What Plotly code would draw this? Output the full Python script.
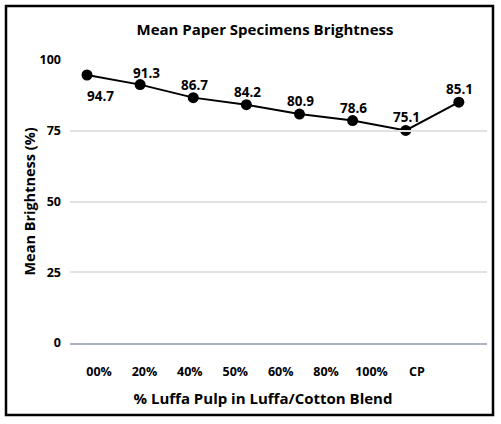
import plotly.graph_objects as go

# chart data
categories = ["00%", "20%", "40%", "50%", "60%", "80%", "100%", "CP"]
brightness = [94.7, 91.3, 86.7, 84.2, 80.9, 78.6, 75.1, 85.1]
label_text = ["94.7", "91.3", "86.7", "84.2", "80.9", "78.6", "75.1", "85.1"]
y_ticks = [0, 25, 50, 75, 100]

FONT = "Open Sans"
W, H = 501, 424
# plot area in pixels
L, R, T, B = 70, 14, 60, 81

fig = go.Figure()

fig.add_trace(go.Scatter(
    x=list(range(len(categories))),
    y=brightness,
    mode="lines+markers",
    line=dict(color="black", width=2),
    marker=dict(color="black", size=11, symbol="circle"),
    cliponaxis=False,
    showlegend=False,
    hoverinfo="skip",
))

# data labels: above each point, except the first one which sits below/right
for i, (v, t) in enumerate(zip(brightness, label_text)):
    if i == 0:
        xs, ys = 13, -21
    elif i == 1:
        xs, ys = 6, 12
    else:
        xs, ys = 1, 13
    fig.add_annotation(
        x=i, y=v, text=t, showarrow=False,
        xshift=xs, yshift=ys,
        font=dict(family=FONT, size=13.5, color="black", weight="bold"),
    )

pw, ph = W - L - R, H - T - B

fig.update_layout(
    width=W, height=H,
    margin=dict(l=L, r=R, t=T, b=B),
    paper_bgcolor="white",
    plot_bgcolor="rgba(0,0,0,0)",
    title=dict(
        text="Mean Paper Specimens Brightness",
        xref="container", x=265 / W, xanchor="center",
        yref="container", y=1 - 30 / H, yanchor="middle",
        font=dict(family=FONT, size=15, color="black", weight="bold"),
    ),
    xaxis=dict(
        range=[-0.32, 7.53],
        showticklabels=False,
        showgrid=False,
        zeroline=False,
        showline=True,
        linecolor="#a9b3c1",
        linewidth=1.5,
        ticks="",
        fixedrange=True,
    ),
    # second x axis only carries the category labels and the axis title
    xaxis2=dict(
        anchor="y",
        side="bottom",
        domain=[0, 386 / pw],
        range=[-0.639, 7.86],
        tickmode="array",
        tickvals=list(range(len(categories))),
        ticktext=categories,
        showgrid=False,
        zeroline=False,
        showline=False,
        ticks="",
        ticklabelstandoff=19,
        tickfont=dict(family=FONT, size=12.5, color="black", weight="bold"),
        title=dict(
            text="% Luffa Pulp in Luffa/Cotton Blend",
            font=dict(family=FONT, size=15, color="black", weight="bold"),
            standoff=14,
        ),
    ),
    yaxis=dict(
        range=[0, 100],
        tickmode="array",
        tickvals=y_ticks,
        showgrid=True,
        gridcolor="#e2e2e2",
        gridwidth=1.5,
        zeroline=False,
        showline=False,
        ticks="",
        ticklabelstandoff=8,
        tickfont=dict(family=FONT, size=12.5, color="black", weight="bold"),
        title=dict(
            text="Mean Brightness (%)",
            font=dict(family=FONT, size=14.5, color="black", weight="bold"),
            standoff=0,
        ),
    ),
)

# invisible helper trace so xaxis2 gets drawn
fig.add_trace(go.Scatter(
    x=[0], y=[None], xaxis="x2", yaxis="y",
    mode="markers", showlegend=False, hoverinfo="skip",
))

# black frame round the whole picture
fig.add_shape(
    type="rect", xref="paper", yref="paper",
    x0=(6 - L) / pw, x1=(493 - L) / pw,
    y0=-(415 - (H - B)) / ph, y1=1 + (T - 6) / ph,
    line=dict(color="black", width=2.5),
    layer="above",
)

fig.write_html(
    "out.html",
    config={"displayModeBar": False},
    post_script="document.body.style.margin='0';",
)
